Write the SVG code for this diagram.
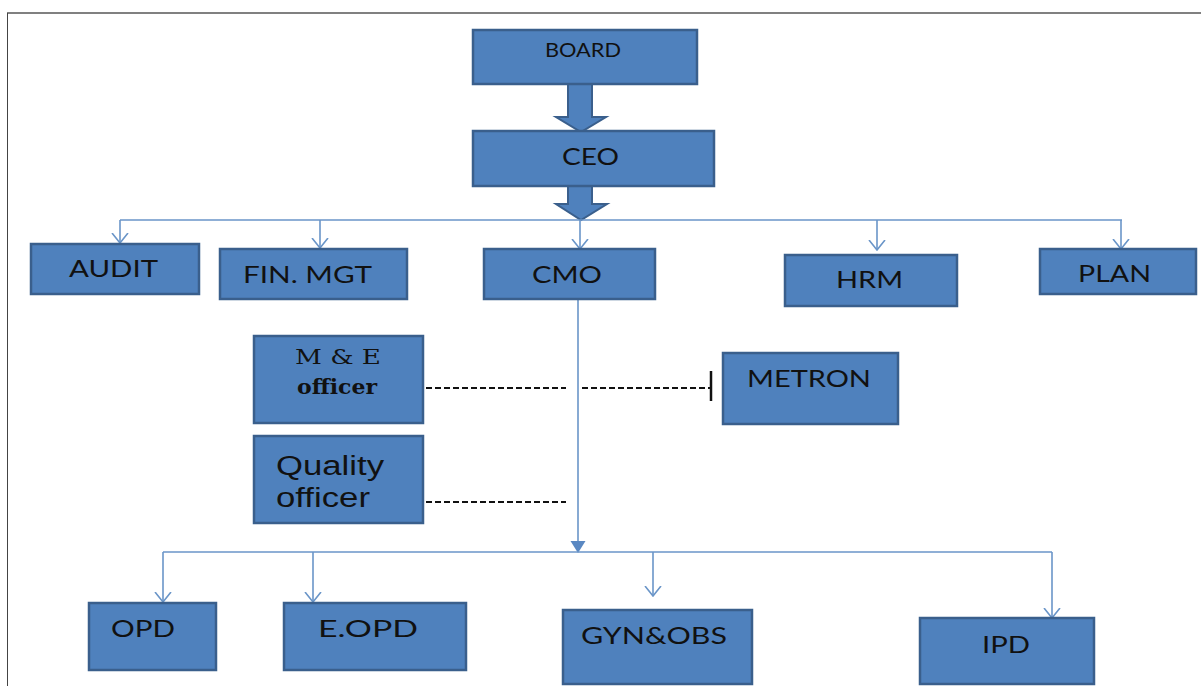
<svg xmlns="http://www.w3.org/2000/svg" width="1201" height="686" viewBox="0 0 1201 686">
<defs>
<style>
.box{fill:#4f81bd;stroke:#3a5f8c;stroke-width:2.5}
.t{font-family:Lato,"Liberation Sans",sans-serif;fill:#111;font-size:24px}
.c{stroke:#6a95c8;stroke-width:1.6;fill:none}
.d{stroke:#111;stroke-width:2;stroke-dasharray:6,3;fill:none}
.big{fill:#4f81bd;stroke:#3a5f8c;stroke-width:2}
</style>
<marker id="open" viewBox="0 0 11 18" refX="10" refY="9" markerWidth="11" markerHeight="18" markerUnits="userSpaceOnUse" orient="auto">
<path d="M0,1 L10,9 L0,17" fill="none" stroke="#6a95c8" stroke-width="1.6"/>
</marker>
</defs>
<rect width="1201" height="686" fill="#fff"/>
<line x1="7" y1="13" x2="1201" y2="13" stroke="#808080" stroke-width="2"/>
<line x1="7.5" y1="13" x2="7.5" y2="686" stroke="#444" stroke-width="1"/>

<g id="connectors">
<path class="big" d="M568,84 L592,84 L592,117 L606,117 L581,132 L556,117 L568,117 Z"/>
<path class="big" d="M568,186 L592,186 L592,204 L607,204 L581,220 L556,204 L568,204 Z"/>
<path class="c" d="M120,220 L1122,220"/>
<path class="c" d="M120,220 L120,243" marker-end="url(#open)"/>
<path class="c" d="M320,220 L320,248" marker-end="url(#open)"/>
<path class="c" d="M580,220 L580,249" marker-end="url(#open)"/>
<path class="c" d="M877,220 L877,250" marker-end="url(#open)"/>
<path class="c" d="M1121,220 L1121,249" marker-end="url(#open)"/>
<path class="c" d="M578,299 L578,545"/>
<path d="M570.5,541 L585.5,541 L578,553 Z" fill="#5a88c2"/>
<path class="c" d="M163,552 L1052,552"/>
<path class="c" d="M163,552 L163,602" marker-end="url(#open)"/>
<path class="c" d="M313,552 L313,602" marker-end="url(#open)"/>
<path class="c" d="M653,552 L653,596" marker-end="url(#open)"/>
<path class="c" d="M1052,552 L1052,618" marker-end="url(#open)"/>
<path class="d" d="M426,388 L566,388"/>
<path class="d" d="M582,388 L710,388"/>
<line x1="711" y1="371" x2="711" y2="401" stroke="#111" stroke-width="2.5"/>
<path class="d" d="M426,502 L566,502"/>
</g>

<g id="board"><rect class="box" x="473" y="30" width="224" height="54"/><text class="t" x="545" y="57" style="font-size:19px" textLength="76" lengthAdjust="spacingAndGlyphs">BOARD</text></g>
<g id="ceo"><rect class="box" x="473" y="131" width="241" height="55"/><text class="t" x="562" y="165" textLength="57" lengthAdjust="spacingAndGlyphs">CEO</text></g>
<g id="audit"><rect class="box" x="31" y="244" width="168" height="50"/><text class="t" x="69" y="277" textLength="89" lengthAdjust="spacingAndGlyphs">AUDIT</text></g>
<g id="finmgt"><rect class="box" x="220" y="249" width="187" height="50"/><text class="t" x="243" y="283" textLength="129" lengthAdjust="spacingAndGlyphs">FIN. MGT</text></g>
<g id="cmo"><rect class="box" x="484" y="249" width="171" height="50"/><text class="t" x="532" y="283" textLength="70" lengthAdjust="spacingAndGlyphs">CMO</text></g>
<g id="hrm"><rect class="box" x="785" y="255" width="172" height="51"/><text class="t" x="836" y="288" textLength="67" lengthAdjust="spacingAndGlyphs">HRM</text></g>
<g id="plan"><rect class="box" x="1040" y="249" width="156" height="45"/><text class="t" x="1078" y="282" textLength="73" lengthAdjust="spacingAndGlyphs">PLAN</text></g>
<g id="me"><rect class="box" x="254" y="336" width="169" height="87"/><text class="t" x="295" y="364" style="font-family:'DejaVu Serif',serif;font-size:20px" textLength="86" lengthAdjust="spacingAndGlyphs">M &amp; E</text><text class="t" x="297" y="394" style="font-family:'DejaVu Serif',serif;font-size:20px;font-weight:bold" textLength="80" lengthAdjust="spacingAndGlyphs">officer</text></g>
<g id="metron"><rect class="box" x="723" y="353" width="175" height="71"/><text class="t" x="747" y="387" textLength="124" lengthAdjust="spacingAndGlyphs">METRON</text></g>
<g id="quality"><rect class="box" x="254" y="436" width="169" height="87"/><text class="t" x="276" y="475" style="font-family:'Liberation Sans',sans-serif;font-size:27px" textLength="108" lengthAdjust="spacingAndGlyphs">Quality</text><text class="t" x="276" y="507" style="font-family:'Liberation Sans',sans-serif;font-size:27px" textLength="94" lengthAdjust="spacingAndGlyphs">officer</text></g>
<g id="opd"><rect class="box" x="89" y="603" width="127" height="67"/><text class="t" x="111" y="637" textLength="64" lengthAdjust="spacingAndGlyphs">OPD</text></g>
<g id="eopd"><rect class="box" x="284" y="603" width="182" height="67"/><text class="t" x="318" y="637" textLength="100" lengthAdjust="spacingAndGlyphs">E.OPD</text></g>
<g id="gynobs"><rect class="box" x="563" y="610" width="189" height="74"/><text class="t" x="581" y="644" textLength="146" lengthAdjust="spacingAndGlyphs">GYN&amp;OBS</text></g>
<g id="ipd"><rect class="box" x="920" y="618" width="174" height="66"/><text class="t" x="982" y="653" textLength="48" lengthAdjust="spacingAndGlyphs">IPD</text></g>
</svg>
